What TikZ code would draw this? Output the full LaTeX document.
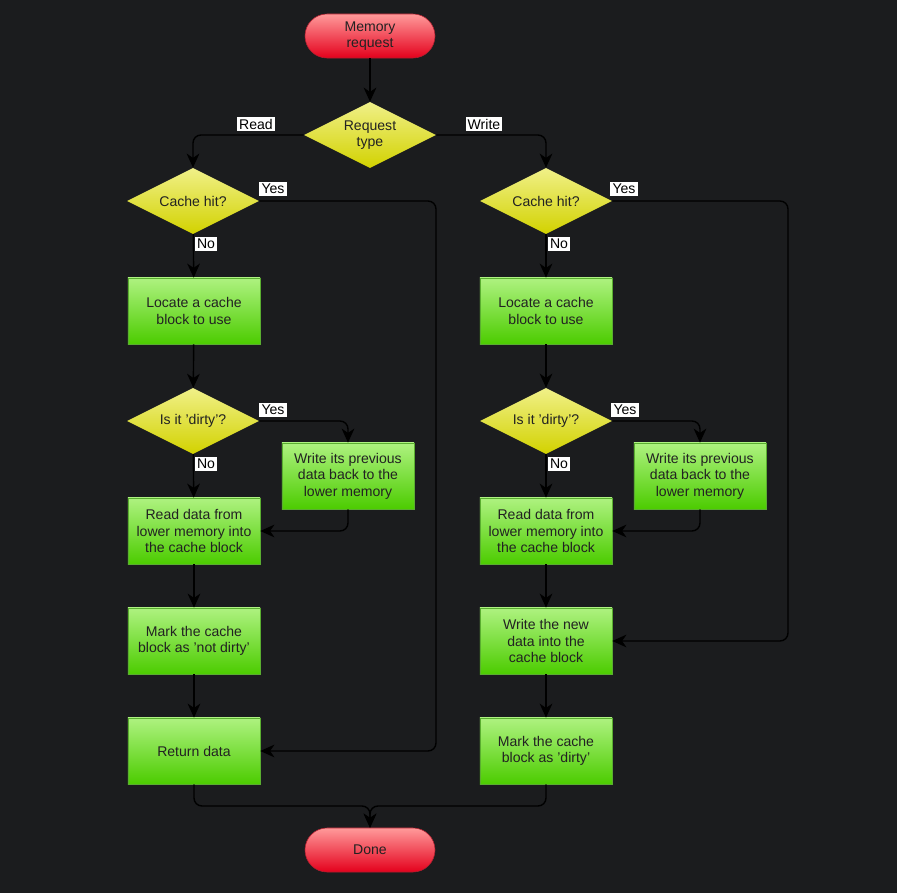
\documentclass[tikz,border=0pt]{standalone}
\usepackage{fontspec}
\setmainfont{Liberation Sans}
\usetikzlibrary{arrows.meta,shapes.geometric}
\definecolor{bgdark}{HTML}{1B1C1E}
\definecolor{inktext}{HTML}{222222}
\definecolor{redtop}{HTML}{FF9A9A}
\definecolor{redbot}{HTML}{E4001C}
\definecolor{redline}{HTML}{B02030}
\definecolor{greentop}{HTML}{AEF280}
\definecolor{greenbot}{HTML}{4CCC00}
\definecolor{greenline}{HTML}{5AAE30}
\definecolor{yellowtop}{HTML}{F0F088}
\definecolor{yellowbot}{HTML}{D2D200}
\tikzset{arrowout/.style={-{Stealth[length=10pt,width=9pt,inset=3pt]},line width=1pt,rounded corners=0.2cm},
  term/.style={rectangle,rounded corners=0.55cm,minimum width=3.25cm,minimum height=1.1cm,inner sep=0pt,align=center,text=inktext,draw=redline,top color=redtop,bottom color=redbot},
  decide/.style={diamond,shape aspect=2,minimum width=3.3cm,minimum height=1.65cm,inner sep=0pt,align=center,text=inktext,top color=yellowtop,bottom color=yellowbot},
  box/.style={rectangle,minimum width=3.3cm,minimum height=1.65cm,inner sep=0pt,align=center,text=inktext,draw=greenline,top color=greentop,bottom color=greenbot}}
\tikzstyle{tag}=[fill=white,inner sep=1.5pt,text=black]

\begin{document}
\begin{tikzpicture}[x=0.025cm,y=-0.025cm,font=\fontsize{10}{11.8}\selectfont]

\fill[bgdark] (0,0) rectangle (897,893);

\node (req) at (370,36) [term] {Memory\\request};
\node (rtype) at (370,135) [decide] {Request\\type};

% read side
\node (hitL) at (193,201) [decide] {Cache hit?};
\node (locL) at (194,311) [box] {Locate a cache\\block to use};
\node (dirtyL) at (193,421) [decide] {Is it 'dirty'?};
\node (wbL) at (348,476) [box] {Write its previous\\data back to the\\lower memory};
\node (rdL) at (194,531) [box] {Read data from\\lower memory into\\the cache block};
\node (markL) at (194,641) [box] {Mark the cache\\block as 'not dirty'};
\node (retL) at (194,751) [box] {Return data};

% write side
\node (hitR) at (546,201) [decide] {Cache hit?};
\node (locR) at (546,311) [box] {Locate a cache\\block to use};
\node (dirtyR) at (546,421) [decide] {Is it 'dirty'?};
\node (wbR) at (700,476) [box] {Write its previous\\data back to the\\lower memory};
\node (rdR) at (546,531) [box] {Read data from\\lower memory into\\the cache block};
\node (newR) at (546,641) [box] {Write the new\\data into the\\cache block};
\node (markR) at (546,751) [box] {Mark the cache\\block as 'dirty'};

\node (done) at (370,850) [term] {Done};

\coordinate (yesL) at (436,751);
\coordinate (yesR) at (788,641);
\coordinate (merge) at (370,806);

\draw[arrowout] (req) -- (rtype);
\draw[arrowout] (rtype.west) -| (hitL.north);
\draw[arrowout] (rtype.east) -| (hitR.north);

\draw[arrowout] (hitL.east) -| (yesL) -- (retL.east);
\draw[arrowout] (hitL) -- (locL);
\draw[arrowout] (locL) -- (dirtyL);
\draw[arrowout] (dirtyL.east) -| (wbL.north);
\draw[arrowout] (dirtyL) -- (rdL);
\draw[arrowout] (wbL.south) |- (rdL.east);
\draw[arrowout] (rdL) -- (markL);
\draw[arrowout] (markL) -- (retL);

\draw[arrowout] (hitR.east) -| (yesR) -- (newR.east);
\draw[arrowout] (hitR) -- (locR);
\draw[arrowout] (locR) -- (dirtyR);
\draw[arrowout] (dirtyR.east) -| (wbR.north);
\draw[arrowout] (dirtyR) -- (rdR);
\draw[arrowout] (wbR.south) |- (rdR.east);
\draw[arrowout] (rdR) -- (newR);
\draw[arrowout] (newR) -- (markR);

\draw[arrowout] (retL.south) |- (merge) -- (done.north);
\draw[arrowout] (markR.south) |- (merge) -- (done.north);

\node (tRead) at (256,124) [tag] {Read};
\node (tWrite) at (484,124) [tag] {Write};
\node (tYes1) at (273,189) [tag] {Yes};
\node (tNo1) at (206,244) [tag] {No};
\node (tYes2) at (273,410) [tag] {Yes};
\node (tNo2) at (206,464) [tag] {No};
\node (tYes3) at (624,189) [tag] {Yes};
\node (tNo3) at (559,244) [tag] {No};
\node (tYes4) at (625,410) [tag] {Yes};
\node (tNo4) at (559,464) [tag] {No};
\end{tikzpicture}
\end{document}
